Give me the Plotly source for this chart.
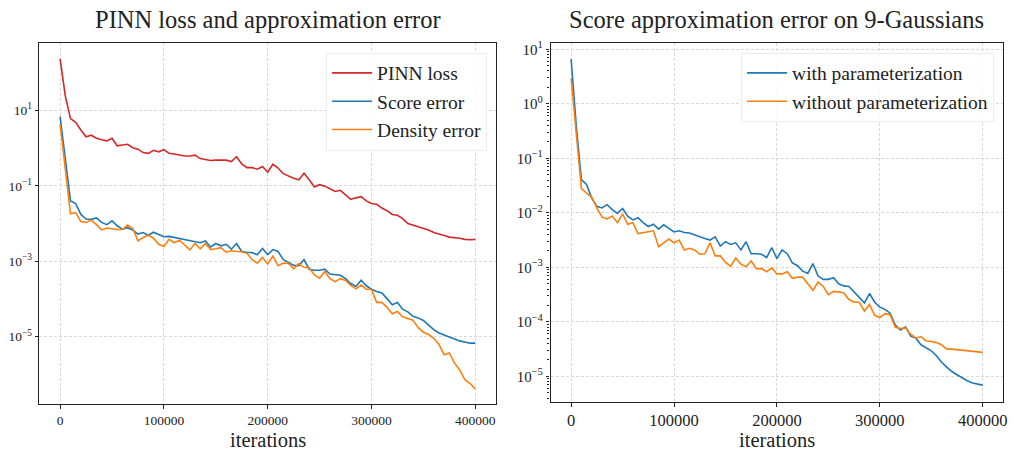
import numpy as np
import plotly.graph_objects as go

# iterations (every 5000 steps)
iterations = list(range(0, 400001, 5000))

# ---- Left panel values (log10 of the plotted quantity) ----
pinn_loss_log10 = [
    2.36, 1.38, 0.78, 0.68, 0.48, 0.30, 0.34, 0.26, 0.22, 0.19,
    0.26, 0.06, 0.08, 0.10, 0.01, -0.03, -0.12, -0.14, -0.06, -0.10,
    -0.04, -0.14, -0.16, -0.18, -0.21, -0.21, -0.19, -0.28, -0.30, -0.33,
    -0.32, -0.32, -0.32, -0.36, -0.23, -0.42, -0.52, -0.52, -0.56, -0.49,
    -0.64, -0.43, -0.53, -0.68, -0.75, -0.80, -0.84, -0.67, -0.84, -1.03,
    -0.97, -1.01, -1.08, -1.15, -1.12, -1.24, -1.36, -1.32, -1.29, -1.40,
    -1.47, -1.49, -1.59, -1.66, -1.76, -1.78, -1.87, -2.00, -2.04, -2.07,
    -2.12, -2.17, -2.24, -2.29, -2.32, -2.36, -2.37, -2.39, -2.42, -2.43,
    -2.42,
]
score_error_log10 = [
    0.83, -0.27, -1.40, -1.47, -1.76, -1.88, -1.89, -1.85, -1.97, -2.03,
    -1.93, -2.06, -2.15, -2.11, -2.17, -2.28, -2.24, -2.31, -2.23, -2.29,
    -2.35, -2.34, -2.37, -2.38, -2.41, -2.44, -2.47, -2.51, -2.46, -2.62,
    -2.53, -2.59, -2.55, -2.68, -2.53, -2.74, -2.76, -2.77, -2.83, -2.66,
    -2.82, -2.69, -2.74, -2.96, -3.03, -3.11, -3.12, -2.96, -3.21, -3.24,
    -3.24, -3.21, -3.34, -3.36, -3.37, -3.46, -3.59, -3.67, -3.50, -3.65,
    -3.74, -3.80, -3.84, -3.99, -4.15, -4.09, -4.27, -4.34, -4.46, -4.50,
    -4.57, -4.69, -4.81, -4.90, -4.96, -5.02, -5.06, -5.11, -5.14, -5.17,
    -5.17,
]
density_error_log10 = [
    0.63, -0.55, -1.74, -1.71, -1.95, -1.97, -1.91, -2.03, -2.17, -2.12,
    -2.15, -2.16, -2.16, -2.04, -2.13, -2.46, -2.37, -2.31, -2.39, -2.55,
    -2.61, -2.42, -2.51, -2.44, -2.57, -2.70, -2.53, -2.67, -2.53, -2.69,
    -2.67, -2.64, -2.76, -2.72, -2.74, -2.75, -2.79, -2.96, -3.05, -2.90,
    -3.07, -2.86, -3.12, -3.05, -3.06, -3.20, -3.06, -3.16, -3.17, -3.36,
    -3.45, -3.27, -3.46, -3.54, -3.46, -3.51, -3.64, -3.73, -3.63, -3.74,
    -3.75, -4.09, -4.09, -4.22, -4.39, -4.33, -4.47, -4.52, -4.56, -4.76,
    -4.88, -4.94, -5.04, -5.20, -5.48, -5.43, -5.70, -5.88, -6.14, -6.24,
    -6.38,
]

# ---- Right panel values (log10) ----
with_param_log10 = [
    0.82, -0.40, -1.39, -1.48, -1.73, -1.88, -1.91, -1.85, -1.94, -2.01,
    -1.92, -2.06, -2.13, -2.09, -2.18, -2.25, -2.21, -2.30, -2.22, -2.29,
    -2.35, -2.33, -2.36, -2.37, -2.41, -2.44, -2.47, -2.50, -2.44, -2.61,
    -2.53, -2.58, -2.55, -2.68, -2.53, -2.75, -2.75, -2.76, -2.82, -2.64,
    -2.84, -2.68, -2.75, -2.92, -2.97, -3.07, -3.11, -2.93, -3.16, -3.22,
    -3.22, -3.19, -3.30, -3.34, -3.35, -3.45, -3.56, -3.65, -3.48, -3.64,
    -3.73, -3.77, -3.84, -4.06, -4.15, -4.09, -4.26, -4.30, -4.42, -4.47,
    -4.53, -4.62, -4.74, -4.83, -4.91, -4.97, -5.03, -5.08, -5.12, -5.14,
    -5.16,
]
without_param_log10 = [
    0.47, -0.55, -1.55, -1.64, -1.71, -1.91, -2.08, -2.11, -2.06, -2.18,
    -2.02, -2.21, -2.18, -2.38, -2.36, -2.35, -2.33, -2.62, -2.55, -2.48,
    -2.55, -2.50, -2.68, -2.65, -2.68, -2.76, -2.75, -2.55, -2.79, -2.79,
    -2.91, -2.98, -2.83, -2.94, -2.99, -2.88, -3.03, -3.02, -3.08, -3.01,
    -3.12, -3.12, -3.08, -3.20, -3.18, -3.18, -3.30, -3.42, -3.27, -3.35,
    -3.50, -3.44, -3.45, -3.47, -3.59, -3.64, -3.64, -3.80, -3.68, -3.88,
    -3.92, -3.85, -3.87, -4.10, -4.12, -4.11, -4.23, -4.30, -4.27, -4.35,
    -4.36, -4.38, -4.42, -4.50, -4.50, -4.51, -4.52, -4.54, -4.55, -4.55,
    -4.56,
]

left_series = [
    ("PINN loss", pinn_loss_log10, "#d62728"),
    ("Score error", score_error_log10, "#1f77b4"),
    ("Density error", density_error_log10, "#ff7f0e"),
]
right_series = [
    ("with parameterization", with_param_log10, "#1f77b4"),
    ("without parameterization", without_param_log10, "#ff7f0e"),
]

x_tickvals = [0, 100000, 200000, 300000, 400000]
x_ticktext = ["0", "100000", "200000", "300000", "400000"]
left_y_exps = [1, -1, -3, -5]
right_y_exps = [1, 0, -1, -2, -3, -4, -5]

titles = ["PINN loss and approximation error", "Score approximation error on 9-Gaussians"]
xlabel = "iterations"

FONT = "Liberation Serif"


def exp_label(e):
    s = str(e).replace("-", "\u2212")
    return "10<sup>" + s + "</sup>"


fig = go.Figure()
for name, vals, col in left_series:
    fig.add_trace(go.Scatter(x=iterations, y=10 ** np.array(vals), mode="lines", name=name,
                             line=dict(color=col, width=1.6), xaxis="x", yaxis="y", legend="legend"))
for name, vals, col in right_series:
    fig.add_trace(go.Scatter(x=iterations, y=10 ** np.array(vals), mode="lines", name=name,
                             line=dict(color=col, width=1.6), xaxis="x2", yaxis="y2", legend="legend2"))

W, H = 1014, 450
L_dom = [39.5 / W, 498 / W]
R_dom = [552.7 / W, 1007.3 / W]
L_ydom = [1 - 404 / H, 1 - 40 / H]
R_ydom = [1 - 401.7 / H, 1 - 40 / H]

grid = dict(showgrid=True, gridcolor="#d9d9d9", griddash="3px,2px", gridwidth=0.8)
axline = dict(showline=True, linecolor="#222", linewidth=1.3, mirror=True, ticks="outside",
              ticklen=3.5, tickcolor="#222", tickwidth=1, zeroline=False)

fig.update_layout(
    width=W, height=H, margin=dict(l=0, r=0, t=0, b=0),
    paper_bgcolor="white", plot_bgcolor="white",
    font=dict(family=FONT, color="#222"),
    showlegend=True,
    xaxis=dict(domain=L_dom, anchor="y", range=[-20000, 420000], tickvals=x_tickvals,
               ticktext=x_ticktext, tickfont=dict(size=13.5), **grid, **axline),
    yaxis=dict(domain=L_ydom, anchor="x", type="log", range=[-6.79, 2.79],
               tickvals=[10.0 ** e for e in left_y_exps],
               ticktext=[exp_label(e) for e in left_y_exps], tickfont=dict(size=13.5),
               **grid, **axline),
    xaxis2=dict(domain=R_dom, anchor="y2", range=[-20000, 420000], tickvals=x_tickvals,
                ticktext=x_ticktext, tickfont=dict(size=16.5), **grid, **axline),
    yaxis2=dict(domain=R_ydom, anchor="x2", type="log", range=[-5.47, 1.12],
                tickvals=[10.0 ** e for e in right_y_exps],
                ticktext=[exp_label(e) for e in right_y_exps], tickfont=dict(size=15),
                minor=dict(ticks="outside", ticklen=2, tickcolor="#222", dtick="D1", showgrid=False),
                **grid, **axline),
    legend=dict(x=489 / W, xanchor="right", y=1 - 50 / H, yanchor="top",
                bgcolor="rgba(255,255,255,0.8)", bordercolor="#ececec", borderwidth=1,
                font=dict(size=19.5, family=FONT), itemwidth=40),
    legend2=dict(x=998 / W, xanchor="right", y=1 - 50 / H, yanchor="top",
                 bgcolor="rgba(255,255,255,0.8)", bordercolor="#ececec", borderwidth=1,
                 font=dict(size=19.5, family=FONT), itemwidth=40),
    annotations=[
        dict(text=titles[0], x=(L_dom[0] + L_dom[1]) / 2, y=1 - 17 / H, xref="paper", yref="paper",
             showarrow=False, font=dict(size=24.5, family=FONT), xanchor="center", yanchor="middle"),
        dict(text=titles[1], x=(R_dom[0] + R_dom[1]) / 2, y=1 - 17 / H, xref="paper", yref="paper",
             showarrow=False, font=dict(size=24.5, family=FONT), xanchor="center", yanchor="middle"),
        dict(text=xlabel, x=(L_dom[0] + L_dom[1]) / 2, y=1 - 440 / H, xref="paper", yref="paper",
             showarrow=False, font=dict(size=20.5, family=FONT), xanchor="center", yanchor="middle"),
        dict(text=xlabel, x=(R_dom[0] + R_dom[1]) / 2, y=1 - 440 / H, xref="paper", yref="paper",
             showarrow=False, font=dict(size=20.5, family=FONT), xanchor="center", yanchor="middle"),
    ],
)

fig.write_html("out.html")
